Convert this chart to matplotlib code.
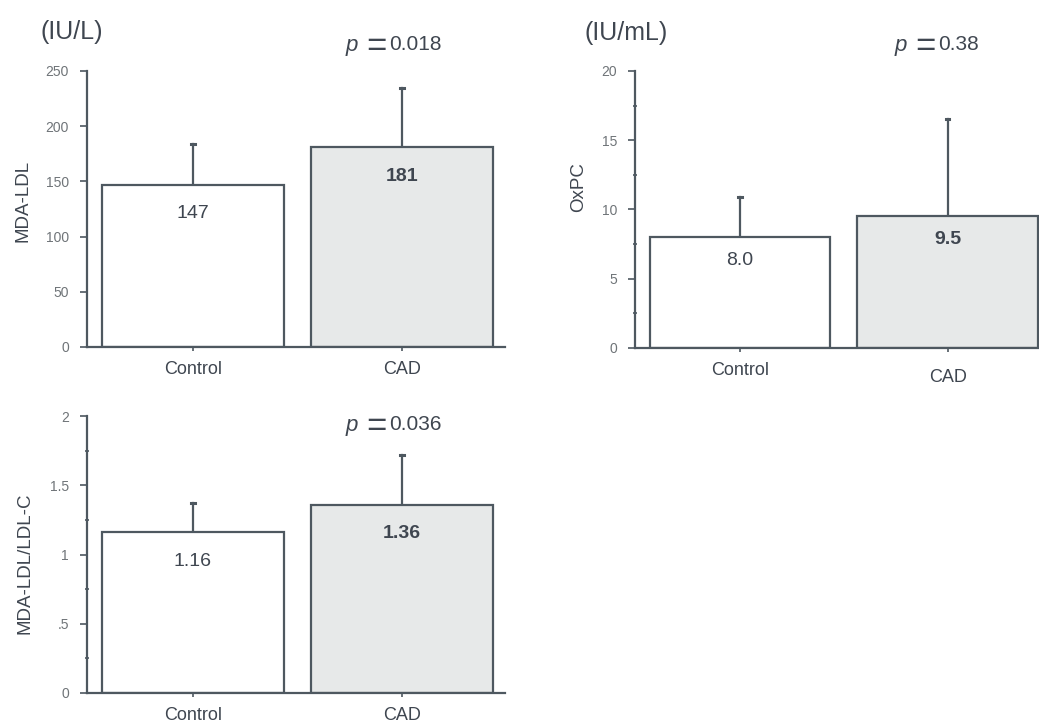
import numpy as np
import matplotlib
matplotlib.use("Agg")
import matplotlib.pyplot as plt
from matplotlib.ticker import MultipleLocator, FixedLocator
from matplotlib.transforms import ScaledTranslation

plt.rcParams['font.family'] = ['Liberation Sans', 'DejaVu Sans']

groups = ["Control", "CAD"]

mda_ldl = [147, 181]
mda_ldl_sd = [37, 54]

oxpc = [8.0, 9.5]
oxpc_sd = [2.9, 7.0]

ratio = [1.16, 1.36]
ratio_sd = [0.21, 0.36]

mda_labels = ["147", "181"]
oxpc_labels = ["8.0", "9.5"]
ratio_labels = ["1.16", "1.36"]

p_values = ["0.018", "0.38", "0.036"]

W, H = 1039, 726
edge = "#4e5860"
txt = "#3f4650"
tick_col = "#6f7478"
fills = ["white", "#e7e9e9"]

fig = plt.figure(figsize=(W / 100, H / 100), dpi=100)


def px_axes(x0, x1, ytop, ybot):
    return fig.add_axes([x0 / W, 1 - ybot / H, (x1 - x0) / W, (ybot - ytop) / H])


def panel(ax, vals, sds, labels, ymax, major, minor, ticklabels, ylabel, ylab_xy, xlim, label_off):
    x = np.arange(len(vals))
    ax.bar(x, vals, width=0.87, color=fills, edgecolor=edge, linewidth=1.6, zorder=2)
    # upper error bars only
    for xi, v, s in zip(x, vals, sds):
        ax.plot([xi, xi], [v, v + s], color=edge, lw=1.6, zorder=1)
        ax.plot([xi - 0.008, xi + 0.008], [v + s, v + s], color=edge, lw=2.2, zorder=1)
    for i, (xi, v, lab) in enumerate(zip(x, vals, labels)):
        ax.text(xi, v - label_off * ymax, lab, ha="center", va="center",
                fontsize=14, color=txt, fontweight="bold" if i == 1 else "normal")
    ax.set_xlim(*xlim)
    ax.set_ylim(0, ymax)
    ax.set_xticks(x)
    ax.set_xticklabels(groups, fontsize=13, color=txt)
    ax.yaxis.set_major_locator(FixedLocator(major))
    ax.set_yticklabels(ticklabels, fontsize=10, color=tick_col)
    if minor:
        ax.yaxis.set_minor_locator(MultipleLocator(minor))
        ax.tick_params(axis="y", which="minor", direction="inout", length=3, width=1.2, color=edge)
    ax.tick_params(axis="y", which="major", direction="out", length=5, width=1.2, color=edge, pad=8)
    ax.tick_params(axis="x", direction="out", length=3, width=1.2, color=edge, pad=7)
    for s in ["top", "right"]:
        ax.spines[s].set_visible(False)
    for s in ["left", "bottom"]:
        ax.spines[s].set_color(edge)
        ax.spines[s].set_linewidth(1.6)
    ax.set_ylabel(ylabel, fontsize=13.5, color=txt)
    ax.yaxis.set_label_coords(*ylab_xy)


def p_text(xp, yp, val):
    y = 1 - yp / H
    fig.text(xp / W, y, "p", style="italic", fontsize=16, color=txt, ha="right", va="center")
    fig.text((xp + 18) / W, y - 1 / H, "=", fontsize=25, color=txt, ha="center", va="center")
    fig.text((xp + 31) / W, y, val, fontsize=15, color=txt, ha="left", va="center")


ax1 = px_axes(87, 505, 71, 347)
panel(ax1, mda_ldl, mda_ldl_sd, mda_labels, 250, [0, 50, 100, 150, 200, 250], None,
      ["0", "50", "100", "150", "200", "250"], "MDA-LDL", (-0.132, 0.53), (-0.507, 1.493), 0.105)

ax2 = px_axes(635, 1039, 71, 348)
panel(ax2, oxpc, oxpc_sd, oxpc_labels, 20, [0, 5, 10, 15, 20], 2.5,
      ["0", "5", "10", "15", "20"], "OxPC", (-0.119, 0.58), (-0.505, 1.44), 0.085)
cad = ax2.get_xticklabels()[1]
cad.set_transform(cad.get_transform() + ScaledTranslation(0, -0.07, fig.dpi_scale_trans))

ax3 = px_axes(87, 505, 416, 693)
panel(ax3, ratio, ratio_sd, ratio_labels, 2, [0, 0.5, 1, 1.5, 2], 0.25,
      ["0", ".5", "1", "1.5", "2"], "MDA-LDL/LDL-C", (-0.127, 0.47), (-0.507, 1.493), 0.105)

fig.text(40 / W, 1 - 32 / H, "(IU/L)", fontsize=18, color=txt, ha="left", va="center")
fig.text(585 / W, 1 - 33 / H, "(IU/mL)", fontsize=18, color=txt, ha="left", va="center")

p_text(358, 45, p_values[0])
p_text(907, 45, p_values[1])
p_text(358, 425, p_values[2])

fig.savefig("out.png", dpi=100)
